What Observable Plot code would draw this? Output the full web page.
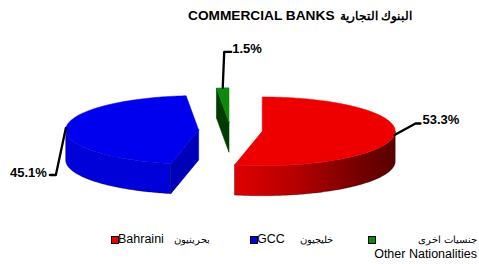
<!DOCTYPE html>
<html><head><meta charset="utf-8">
<script src="https://cdn.jsdelivr.net/npm/d3@7"></script>
<script src="https://cdn.jsdelivr.net/npm/@observablehq/plot@0.6"></script>
<style>
body{margin:0;background:#fff;font-family:"Liberation Sans",Arial,sans-serif;color:#000}
#wrap{position:relative;width:479px;height:264px;overflow:hidden;background:#fff}
#title{position:relative;height:28px}
#title span{position:absolute;font-weight:bold;line-height:14px;white-space:pre}
#title .en{left:188px;top:9px;font-size:13.7px}
#title .ar{left:340px;top:9px;font-size:11.7px}
#chart{height:200px}
#chart svg{display:block}
#legend{position:relative;height:36px;font-size:12.5px;line-height:14px}
#legend .it{position:absolute;white-space:pre}
#legend .arb{font-size:10.3px}
#legend .sw{position:absolute;width:6px;height:6px;border:1px solid #000}
</style></head><body>
<div id="wrap">
  <div id="title"><span class="en"></span><span class="ar" dir="rtl"></span></div>
  <div id="chart"></div>
  <div id="legend"></div>
</div>
<script>
// ---- data ----
const titleEn = "COMMERCIAL BANKS";
const titleAr = "البنوك التجارية";
const categories = ["Bahraini", "GCC", "Other Nationalities"];
const arabicNames = ["بحرينيون", "خليجيون", "جنسيات اخرى"];
const shares = [53.3, 45.1, 1.5];
const shareLabels = ["53.3%", "45.1%", "1.5%"];

// ---- styles / layout ----
const topColors  = ["#EE0000", "#0000EE", "#0C8A0C"];
const wallColors = ["url(#redWall)", "#0000D8", "#005000"];
const sideColors = ["#8A0000", "#0000B8", "#003C00"];
const W = 479, H = 200;
const cx = 230, cy = 102, rx = 133, ry = 34.4, depth = 30, explode = 0.24;
// leader elbow/end offsets relative to rim anchor, and text placement
const leaderCfg = [
  {ex: 21, ey: -11.5, fx: 26, fy: -11.5, tdx: 2, tdy: -4, anchor: "start"},
  {ex: -10, ey: 47, fx: -16, fy: 47, tdx: -3, tdy: -2.5, anchor: "end"},
  {ex: 1.5, ey: -36, fx: 8.5, fy: -36, tdx: 1, tdy: -3, anchor: "start"}
];

const rows = categories.map((c, i) => ({name: c, value: shares[i], i}));
const arcs = d3.pie().sort(null).value(d => d.value)(rows);

const P = (c, a, k = 1) => [c[0] + k * rx * Math.sin(a), c[1] - k * ry * Math.cos(a)];
const down = p => [p[0], p[1] + depth];
function arcPts(c, a0, a1) {
  const n = Math.max(2, Math.ceil((a1 - a0) / (Math.PI / 180)));
  return d3.range(n + 1).map(j => P(c, a0 + (a1 - a0) * j / n));
}

const slices = arcs.map(a => {
  const i = a.data.i;
  const mid = (a.startAngle + a.endAngle) / 2;
  const c = P([cx, cy], mid, explode);
  return {i, a0: a.startAngle, a1: a.endAngle, mid, c};
}).sort((s, t) => s.c[1] - t.c[1]);

const marks = [];
const face = (pts, fill, stroke, sw, so) =>
  Plot.line(pts, {x: d => d[0], y: d => d[1], fill, stroke, strokeWidth: sw, strokeOpacity: so, curve: "linear"});

for (const s of slices) {
  const {i, a0, a1, c} = s;
  // radial cut faces
  if (Math.sin(a0) < -1e-6) {
    const r = P(c, a0);
    marks.push(face([c, r, down(r), down(c), c], sideColors[i], sideColors[i], 0.6, 1));
  }
  if (Math.sin(a1) > 1e-6) {
    const r = P(c, a1);
    marks.push(face([c, r, down(r), down(c), c], sideColors[i], sideColors[i], 0.6, 1));
  }
  // outer wall (front half only)
  const lo = Math.max(a0, Math.PI / 2), hi = Math.min(a1, 3 * Math.PI / 2);
  if (hi > lo) {
    const pts = arcPts(c, lo, hi);
    const poly = [...pts, ...pts.slice().reverse().map(down), pts[0]];
    marks.push(face(poly, wallColors[i], "#000", 0.7, 0.45));
  }
  // top face
  marks.push(face([c, ...arcPts(c, a0, a1), c], topColors[i], topColors[i], 0.5, 1));
}

// leader lines and labels
const leaders = [], labels = [];
for (const s of slices) {
  const L = leaderCfg[s.i];
  const r = P(s.c, s.mid);
  const e = [r[0] + L.ex, r[1] + L.ey], f = [r[0] + L.fx, r[1] + L.fy];
  leaders.push(face([r, e, f], "none", "#000", 2.3, 1));
  labels.push({x: f[0] + L.tdx, y: f[1] + L.tdy, text: shareLabels[s.i], anchor: L.anchor});
}
marks.push(...leaders);
for (const anchor of ["start", "end"]) {
  marks.push(Plot.text(labels.filter(d => d.anchor === anchor), {
    x: "x", y: "y", text: "text", textAnchor: anchor,
    fontSize: 13, fontWeight: "bold", fontFamily: "Liberation Sans, Arial, sans-serif", fill: "#000"
  }));
}

const chart = Plot.plot({
  width: W, height: H, margin: 0,
  x: {domain: [0, W], range: [0, W], axis: null},
  y: {domain: [0, H], range: [0, H], axis: null},
  style: {background: "#fff", overflow: "visible"},
  marks
});
d3.select(chart).insert("defs", ":first-child").html(
  `<linearGradient id="redWall" x1="0" x2="1" y1="0" y2="0">
     <stop offset="0" stop-color="#E00000"/>
     <stop offset="0.4" stop-color="#B20000"/>
     <stop offset="0.75" stop-color="#780000"/>
     <stop offset="1" stop-color="#5A0000"/>
   </linearGradient>`);
document.getElementById("chart").appendChild(chart);

// title
document.querySelector("#title .en").textContent = titleEn;
document.querySelector("#title .ar").textContent = titleAr;

// legend
const legend = document.getElementById("legend");
const legendPos = [
  {sq: 111, txt: 118, ar: 174},
  {sq: 250, txt: 257, ar: 300},
  {sq: 368, right: 2}
];
categories.forEach((c, i) => {
  const p = legendPos[i];
  const sw = document.createElement("div");
  sw.className = "sw";
  sw.style.left = p.sq + "px"; sw.style.top = "8px";
  sw.style.background = topColors[i].startsWith("url") ? "#EE0000" : topColors[i];
  legend.appendChild(sw);
  const a = document.createElement("div");
  a.className = "it arb"; a.textContent = arabicNames[i]; a.dir = "rtl";
  a.style.top = "5px";
  const t = document.createElement("div");
  t.className = "it"; t.textContent = c;
  if (p.right === undefined) {
    t.style.left = p.txt + "px"; t.style.top = "4px";
    a.style.left = p.ar + "px";
  } else {
    a.style.right = p.right + "px";
    t.style.right = p.right + "px"; t.style.top = "19px";
  }
  legend.appendChild(t);
  legend.appendChild(a);
});
</script>
</body></html>
